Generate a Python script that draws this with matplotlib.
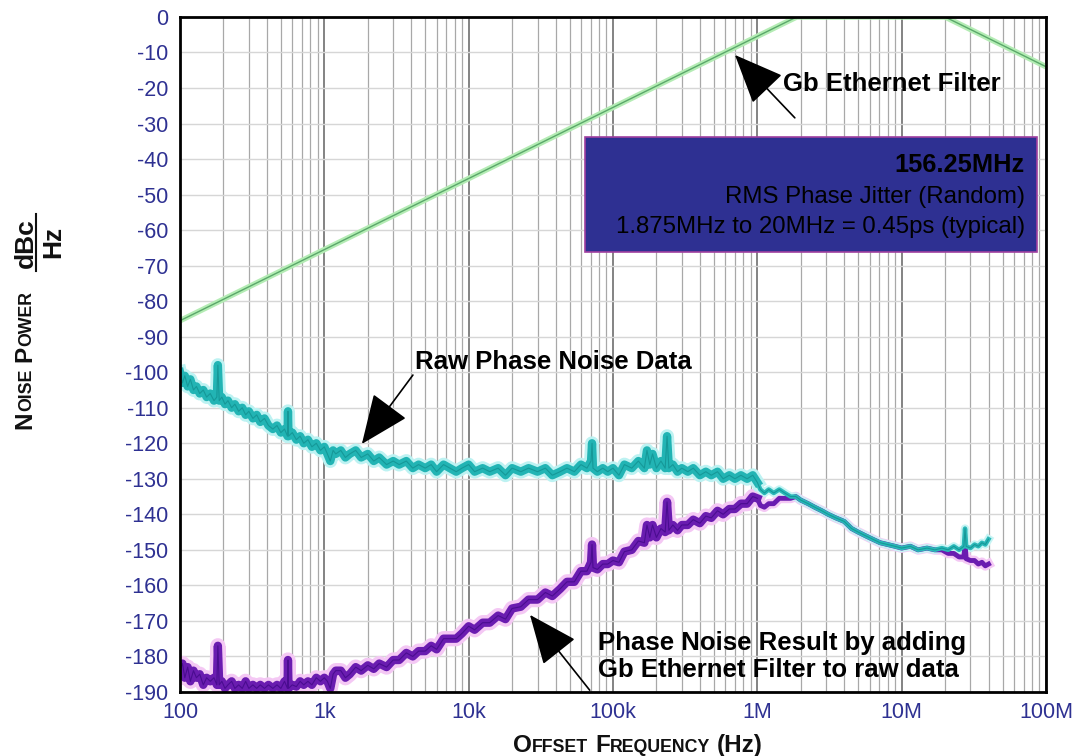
import matplotlib
matplotlib.use('Agg')
import matplotlib.pyplot as plt
from matplotlib.patches import Rectangle
from matplotlib.lines import Line2D
from matplotlib.transforms import IdentityTransform

plt.rcParams['font.family'] = ['Liberation Sans', 'DejaVu Sans']
plt.rcParams['axes.unicode_minus'] = False

# data
x_ticks = [1e2, 1e3, 1e4, 1e5, 1e6, 1e7, 1e8]
x_tick_labels = ['100', '1k', '10k', '100k', '1M', '10M', '100M']
y_ticks = list(range(0, -191, -10))
y_tick_labels = [str(v) for v in y_ticks]

filter_freq = [100, 1875000, 20000000, 100000000]
filter_dbc = [-85.5, 0, 0, -14]

raw_freq = [
    100, 104, 108, 113, 118, 124, 130, 137, 145, 153,
    162, 172, 180, 183, 187, 195, 205, 215, 228, 240,
    255, 270, 285, 300, 320, 340, 360, 385, 410, 440,
    470, 500, 530, 556, 560, 565, 600, 640, 680, 720,
    770, 820, 880, 940, 1000, 1050, 1100, 1150, 1200, 1300,
    1400, 1500, 1650, 1800, 2000, 2200, 2400, 2700, 3000, 3300,
    3700, 4100, 4500, 5000, 5500, 6000, 6700, 7400, 8200, 9000,
    10000, 11000, 12500, 14000, 16000, 18000, 20000, 23000, 26000, 30000,
    34000, 38000, 43000, 48000, 54000, 60000, 66000, 70500, 71600, 72700,
    78000, 85000, 92000, 100000, 110000, 120000, 135000, 150000, 165000, 172000,
    180000, 188000, 200000, 215000, 230000, 237000, 244000, 260000, 280000, 300000,
    330000, 360000, 400000, 440000, 480000, 530000, 580000, 640000, 700000, 770000,
    850000, 930000, 1000000, 1050000, 1120000, 1200000, 1300000, 1420000, 1550000, 1700000,
    1850000, 2000000, 2250000, 2500000, 2800000, 3100000, 3500000, 4000000, 4500000, 5000000,
    5600000, 6300000, 7100000, 8000000, 9000000, 10000000, 11500000, 13000000, 15000000, 17000000,
    19000000, 21000000, 23000000, 25000000, 27000000, 27500000, 28000000, 30000000, 32000000, 34000000,
    36000000, 38000000, 40000000,
]
raw_dbc = [
    -100, -103, -101, -104, -102, -105, -104, -106, -105, -107,
    -106, -108, -107, -98, -108, -107, -109, -108, -110, -109,
    -111, -110, -112, -111, -113, -112, -114, -113, -115, -116,
    -115, -117, -116, -118, -111, -118, -117, -119, -118, -120,
    -119, -121, -120, -122, -121, -123, -125, -122, -123, -122,
    -124, -123, -122, -124, -123, -125, -124, -126, -125, -126,
    -125, -127, -126, -127, -126, -128, -126, -127, -128, -127,
    -126, -128, -127, -128, -127, -129, -127, -128, -127, -128,
    -127, -129, -128, -127, -128, -126, -127, -125, -120, -127,
    -128, -127, -128, -127, -129, -126, -127, -125, -127, -122,
    -126, -123, -127, -125, -127, -118, -127, -126, -128, -127,
    -128, -127, -129, -128, -129, -128, -130, -129, -130, -129,
    -130, -129, -131, -133, -134, -133, -134, -133, -134, -135,
    -135, -136, -137, -138, -139, -140, -141, -142, -144, -145,
    -146, -147, -148, -148.5, -149, -149.5, -149, -150, -149.5, -150,
    -149.5, -150, -149, -150, -149, -144, -149, -149.5, -148.5, -149,
    -148, -148.5, -147,
]

result_freq = raw_freq
result_dbc = [
    -184, -182, -186, -183, -187, -184, -186, -185, -188, -186,
    -187, -186, -188, -177, -188, -187, -189, -188, -187, -189,
    -188, -189, -187, -189, -188, -189, -188, -189, -188, -189,
    -188, -189, -187, -189, -181, -189, -188, -188.5, -187, -188,
    -187, -188, -186, -187, -186, -187, -189, -185, -184, -184,
    -186, -185, -183, -184, -182.5, -183.5, -182, -183, -181, -181,
    -179, -180, -178.5, -178.5, -177, -178, -175, -175, -175, -173.5,
    -171.5, -172.5, -170.5, -170.5, -168.5, -169.5, -166.5, -166, -164, -164,
    -162, -163, -161, -159, -159, -156, -156, -153.5, -148.5, -155,
    -155.5, -154, -154, -153, -153.5, -150.5, -150, -147.5, -148, -143,
    -146.5, -143, -146.5, -144, -145, -136.5, -144.5, -143, -144.5, -143,
    -143, -141.5, -142.5, -140.5, -141, -139, -140, -138.5, -138.5, -137,
    -137, -135, -135.5, -137.5, -138, -137, -137, -135.5, -135.5, -135.5,
    -135, -136, -137, -138, -139, -140, -141, -142, -144, -145,
    -146, -147, -148, -148.5, -149, -149.5, -149, -150, -149.5, -150,
    -150, -151, -151, -152, -152, -148, -152.5, -153, -153, -154,
    -153.5, -154.5, -154,
]

label_blue = '#2e3192'

fig = plt.figure(figsize=(10.72, 7.56), dpi=100)
ax = fig.add_axes([0.1679, 0.0847, 0.8078, 0.8929])
ax.set_xscale('log')
ax.set_xlim(1e2, 1e8)
ax.set_ylim(-190, 0)

# grid
ax.set_xticks(x_ticks)
ax.set_xticklabels(x_tick_labels)
ax.set_yticks(y_ticks)
ax.set_yticklabels(y_tick_labels)
ax.xaxis.set_minor_locator(matplotlib.ticker.LogLocator(base=10, subs=range(2, 10), numticks=20))
ax.xaxis.set_minor_formatter(matplotlib.ticker.NullFormatter())
ax.grid(which='major', axis='x', color='#7a7a7a', lw=1.3)
ax.grid(which='minor', axis='x', color='#a8a8a8', lw=0.9)
ax.grid(which='major', axis='y', color='#d6d6d6', lw=1.0)
ax.set_axisbelow(True)
ax.tick_params(which='both', length=0)
ax.tick_params(axis='both', labelsize=15.5, labelcolor=label_blue)
ax.tick_params(axis='y', pad=8.5)
ax.tick_params(axis='x', pad=7)
for sp in ax.spines.values():
    sp.set_linewidth(2)
    sp.set_color('black')

# traces
ax.plot(filter_freq, filter_dbc, color='#b4ecb4', lw=4, solid_capstyle='butt')
ax.plot(filter_freq, filter_dbc, color='#5aa86a', lw=1.0)

k = raw_freq.index(1000000) + 1
ax.plot(result_freq[:k], result_dbc[:k], color='#f4c8f4', lw=11, solid_joinstyle='round')
ax.plot(result_freq[k - 1:], result_dbc[k - 1:], color='#f4c8f4', lw=7, solid_joinstyle='round')
ax.plot(raw_freq[:k], raw_dbc[:k], color='#bdf2f2', lw=10, solid_joinstyle='round')
ax.plot(raw_freq[k - 1:], raw_dbc[k - 1:], color='#c6f4f4', lw=6, solid_joinstyle='round')
ax.plot(result_freq[:k], result_dbc[:k], color='#6a1cb0', lw=6)
ax.plot(result_freq[k - 1:], result_dbc[k - 1:], color='#6a1cb0', lw=3.5)
ax.plot(raw_freq[:k], raw_dbc[:k], color='#22b4b4', lw=6)
ax.plot(raw_freq[k - 1:], raw_dbc[k - 1:], color='#2ab8b8', lw=3.2)
ax.plot(raw_freq, raw_dbc, color='#159898', lw=0.8)
ax.plot(result_freq[:k], result_dbc[:k], color='#4a0c90', lw=0.8)

# annotations
arrow = dict(arrowstyle='-|>,head_length=0.9,head_width=0.38', mutation_scale=35,
             lw=1.2, color='black', shrinkA=0, shrinkB=0)
ax.annotate('', xy=(7.0e5, -10.7), xytext=(1.82e6, -28.4), arrowprops=arrow)
ax.text(1.51e6, -20.8, 'Gb Ethernet Filter', fontsize=18.5, fontweight='bold',
        ha='left', va='baseline')

ax.annotate('', xy=(1.82e3, -120.2), xytext=(4.11e3, -100.8), arrowprops=arrow)
ax.text(4.25e3, -99.1, 'Raw Phase Noise Data', fontsize=18.5, fontweight='bold',
        ha='left', va='baseline')

ax.annotate('', xy=(2.66e4, -168.3), xytext=(6.9e4, -189.5), arrowprops=arrow)
ax.text(7.87e4, -178.2, 'Phase Noise Result by adding', fontsize=18.5,
        fontweight='bold', ha='left', va='baseline')
ax.text(7.87e4, -185.8, 'Gb Ethernet Filter to raw data', fontsize=18.5,
        fontweight='bold', ha='left', va='baseline')

# jitter box
ax.add_patch(Rectangle((0.4677, 0.6519), 0.5219, 0.1703, transform=ax.transAxes,
                       facecolor='#2e3092', edgecolor='#a040a0', lw=1.2, zorder=5))
ax.text(0.9758, 0.7704, '156.25MHz', transform=ax.transAxes, fontsize=18.3,
        fontweight='bold', ha='right', va='baseline', zorder=6)
ax.text(0.9758, 0.7244, 'RMS Phase Jitter (Random)', transform=ax.transAxes,
        fontsize=17.3, ha='right', va='baseline', zorder=6)
ax.text(0.9758, 0.6800, '1.875MHz to 20MHz = 0.45ps (typical)', transform=ax.transAxes,
        fontsize=17.3, ha='right', va='baseline', zorder=6)

# small caps axis labels
H = 756


def small_caps(pieces, x, y, rotation=0):
    renderer = fig.canvas.get_renderer()
    items = []
    for s, size in pieces:
        if s == ' ':
            items.append((None, size * 0.28 * 100 / 72))
            continue
        t = fig.text(0, 0, s, fontsize=size, fontweight='bold', color='#111111',
                     transform=IdentityTransform(), ha='left', va='baseline',
                     rotation=rotation, rotation_mode='anchor')
        bb = t.get_window_extent(renderer)
        items.append((t, bb.height if rotation == 90 else bb.width))
    total = sum(l for _, l in items)
    pos = (y if rotation == 90 else x) - total / 2
    for t, l in items:
        if t is not None:
            t.set_position((x, pos) if rotation == 90 else (pos, y))
        pos += l


big, small = 17.5, 12.8
small_caps([('O', big), ('FFSET', small), (' ', big), ('F', big), ('REQUENCY', small),
            (' ', big), ('(Hz)', big)], 638, H - 752)
small_caps([('N', big), ('OISE', small), (' ', big), ('P', big), ('OWER', small)],
           31, H - 360, rotation=90)

fig.text(26, H - 243, 'dBc', fontsize=19, fontweight='bold', color='#111111',
         rotation=90, ha='center', va='center', transform=IdentityTransform())
fig.text(53, H - 242, 'Hz', fontsize=19, fontweight='bold', color='#111111',
         rotation=90, ha='center', va='center', transform=IdentityTransform())
fig.add_artist(Line2D([36, 36], [H - 214, H - 271], color='#111111', lw=1.5,
                      transform=IdentityTransform()))

fig.savefig('out.png', dpi=100)
